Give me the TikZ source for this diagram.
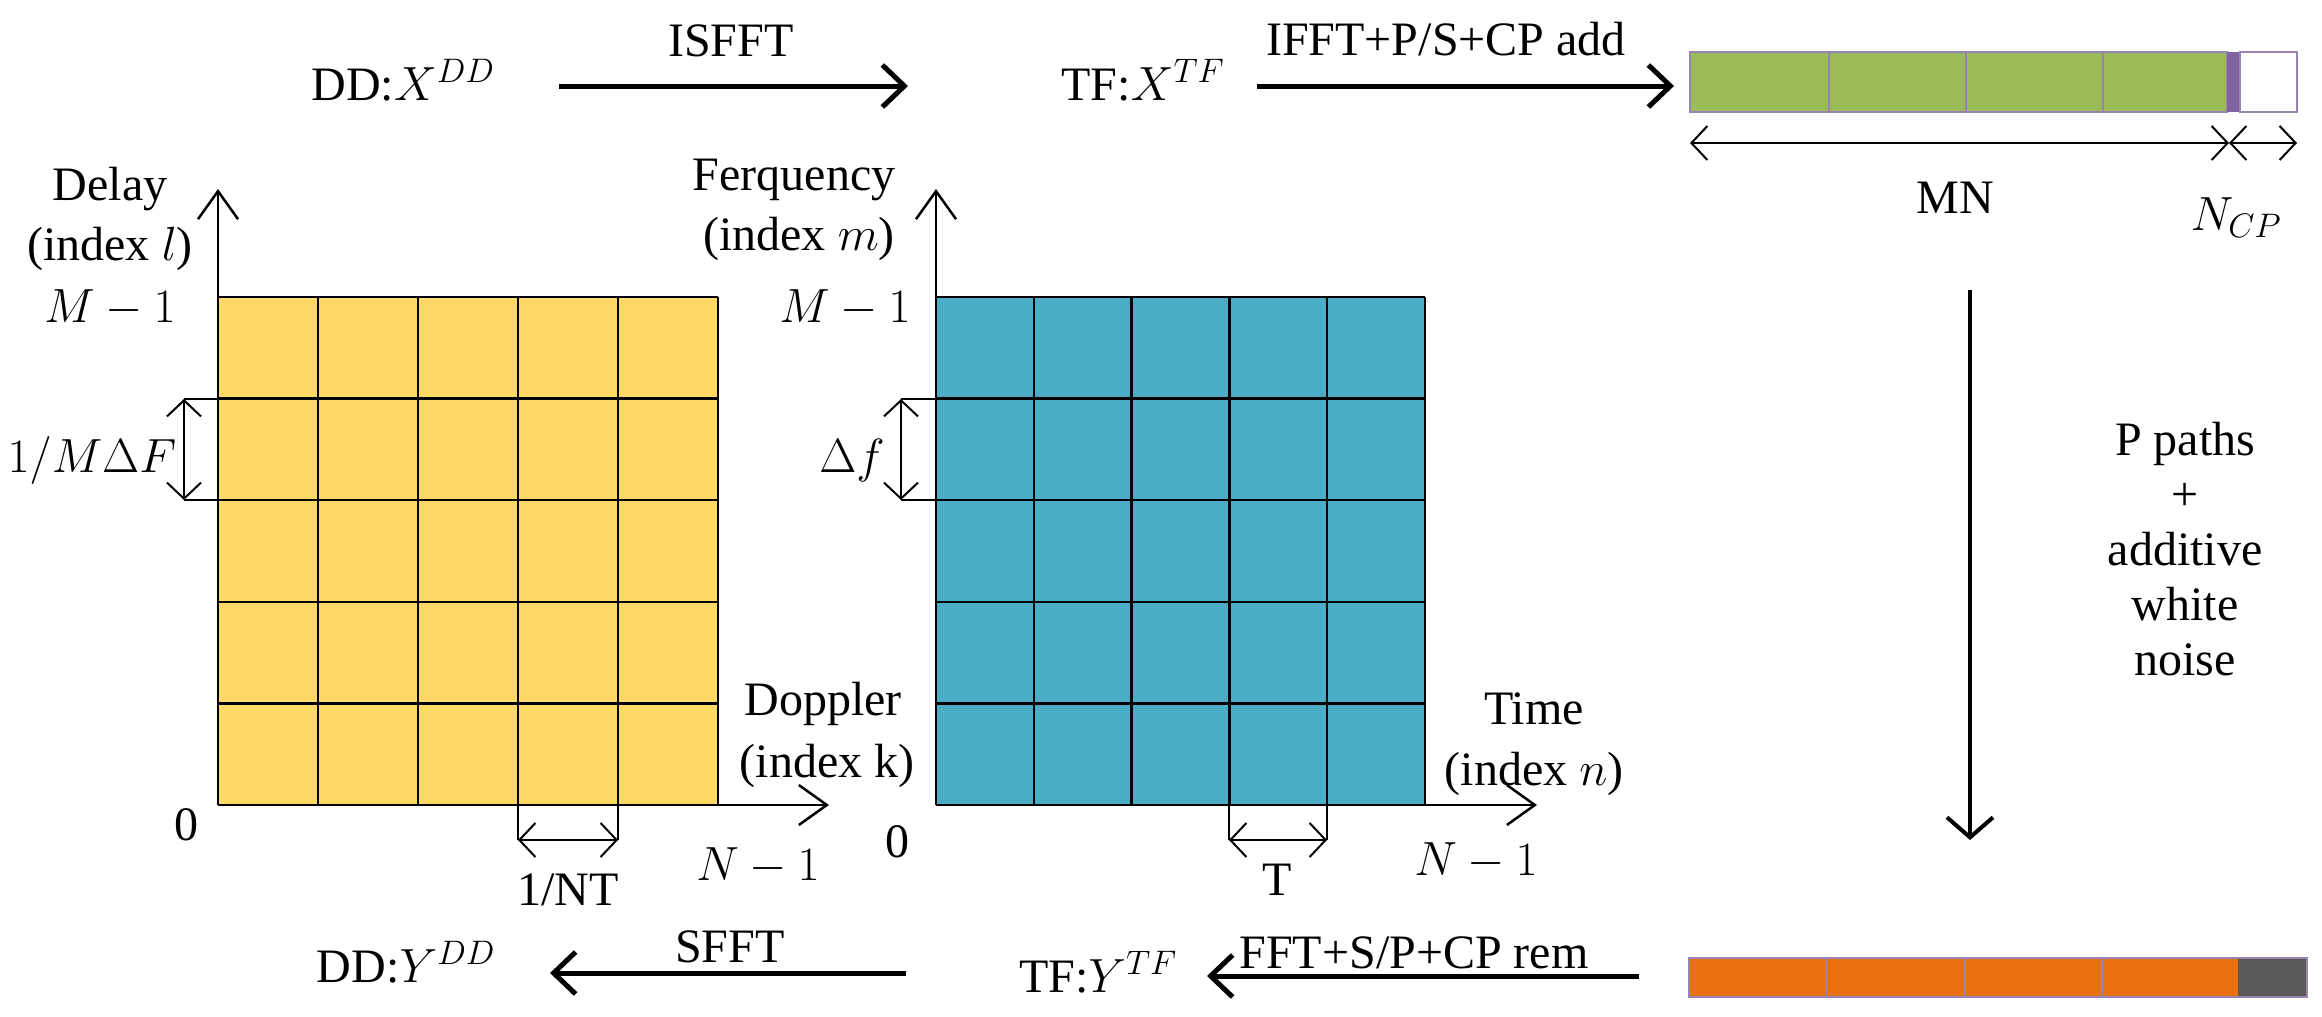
\RequirePackage{fix-cm}
\documentclass[tikz,border=0pt]{standalone}
\usepackage{fontspec}
\setmainfont{Liberation Serif}
\usetikzlibrary{arrows.meta}
\definecolor{cyel}{HTML}{FFD966}
\definecolor{cteal}{HTML}{4BACC6}
\definecolor{cgreen}{HTML}{9BBB59}
\definecolor{corange}{HTML}{E8700E}
\definecolor{cgray}{HTML}{595959}
\definecolor{cpurple}{HTML}{8064A2}
\DeclareMathSizes{48}{48}{34}{26}
\begin{document}
\begin{tikzpicture}[x=1pt,y=-1pt,
  txt/.style={font=\fontsize{48}{60}\selectfont, inner sep=0pt, anchor=base},
  bigarrow/.style={line width=5pt, -{Straight Barb[length=22pt,width=42pt]}},
  axis/.style={line width=2.5pt, -{Straight Barb[length=28pt,width=40pt]}},
  dimarrow/.style={line width=2pt, {Straight Barb[length=16pt,width=34pt]}-{Straight Barb[length=16pt,width=34pt]}},
  tick/.style={line width=2pt},
  gridline/.style={line width=2.5pt},
  barline/.style={draw=cpurple!80, line width=2pt}]
\useasboundingbox (0,0) rectangle (2322,1017);

% ---------- grids ----------
\fill[cyel] (218,297) rectangle (718,805);
\foreach \i in {0,...,5} {
  \draw[gridline] ({218+100*\i},297) -- ({218+100*\i},805);
  \draw[gridline] (218,{297+101.6*\i}) -- (718,{297+101.6*\i});
}
\fill[cteal] (936,297) rectangle (1425,805);
\foreach \i in {0,...,5} {
  \draw[gridline] ({936+97.8*\i},297) -- ({936+97.8*\i},805);
  \draw[gridline] (936,{297+101.6*\i}) -- (1425,{297+101.6*\i});
}

% ---------- axes ----------
\coordinate (yo) at (218,805);
\coordinate (yup) at (218,189);
\coordinate (yright) at (829,805);
\coordinate (to) at (936,805);
\coordinate (tup) at (936,189);
\coordinate (tright) at (1537,805);
\draw[axis] (yo) -- (yup);
\draw[axis] (yo) -- (yright);
\draw[axis] (to) -- (tup);
\draw[axis] (to) -- (tright);

% ---------- DD grid labels ----------
\node[txt] (delay1) at (110,200) {Delay};
\node[txt] (delay2) at (110,260) {(index $l$)};
\node[txt] (ddM) at (110,322) {$M-1$};
\node[txt] (ddres) at (92,472) {$1/M\Delta F$};
\node[txt] (dd0) at (186,840) {0};
\node[txt] (ddN) at (758,880) {$N-1$};
\node[txt] (ddNT) at (568,905) {1/NT};
\node[txt] (dop1) at (823,715) {Doppler};
\node[txt] (dop2) at (827,777) {(index k)};

% resolution arrows DD
\draw[tick] (184,399) -- (218,399);
\draw[tick] (184,500) -- (218,500);
\coordinate (dda) at (184,399);
\coordinate (ddb) at (184,500);
\draw[dimarrow] (dda) -- (ddb);
\draw[tick] (518,805) -- (518,840);
\draw[tick] (618,805) -- (618,840);
\coordinate (ddc) at (518,840);
\coordinate (ddd) at (618,840);
\draw[dimarrow] (ddc) -- (ddd);

% ---------- TF grid labels ----------
\node[txt] (fr1) at (794,190) {Ferquency};
\node[txt] (fr2) at (799,250) {(index $m$)};
\node[txt] (tfM) at (845,322) {$M-1$};
\node[txt] (tfres) at (852,472) {$\Delta f$};
\node[txt] (tf0) at (897,857) {0};
\node[txt] (tfT) at (1277,895) {T};
\node[txt] (tfN) at (1476,875) {$N-1$};
\node[txt] (time1) at (1534,724) {Time};
\node[txt] (time2) at (1534,785) {(index $n$)};

\draw[tick] (901,399) -- (936,399);
\draw[tick] (901,500) -- (936,500);
\coordinate (tfa) at (901,399);
\coordinate (tfb) at (901,500);
\draw[dimarrow] (tfa) -- (tfb);
\draw[tick] (1229,805) -- (1229,840);
\draw[tick] (1327,805) -- (1327,840);
\coordinate (tfc) at (1229,840);
\coordinate (tfd) at (1327,840);
\draw[dimarrow] (tfc) -- (tfd);

% ---------- top row ----------
\node[txt] (ddx) at (403,100) {DD:$X^{DD}$};
\node[txt] (tfx) at (1143,100) {TF:$X^{TF}$};
\node[txt] (isfft) at (731,56) {ISFFT};
\node[txt] (ifft) at (1446,55) {IFFT+P/S+CP add};
\coordinate (a1s) at (559,86);
\coordinate (a1e) at (908,86);
\coordinate (a2s) at (1257,86);
\coordinate (a2e) at (1674,86);
\draw[bigarrow] (a1s) -- (a1e);
\draw[bigarrow] (a2s) -- (a2e);

% green bar
\fill[cgreen] (1690,52) rectangle (2227,112);
\draw[barline] (1690,52) rectangle (2227,112);
\foreach \x in {1829,1966,2103} \draw[barline] (\x,52) -- (\x,112);
\fill[cpurple] (2227,52) rectangle (2240,112);
\draw[barline] (2240,52) rectangle (2297,112);

% MN / NCP dimension
\coordinate (mna) at (1690,143);
\coordinate (mnb) at (2229,143);
\coordinate (mnc) at (2297,143);
\draw[dimarrow] (mna) -- (mnb);
\draw[dimarrow] (mnb) -- (mnc);
\node[txt] (mn) at (1955,213) {MN};
\node[txt] (ncp) at (2236,230) {$N_{CP}$};

% channel arrow
\coordinate (cha) at (1970,290);
\coordinate (chb) at (1970,840);
\draw[line width=4pt, -{Straight Barb[length=20pt,width=46pt]}] (cha) -- (chb);
\node[txt] (ch1) at (2185,455) {P paths};
\node[txt] (ch2) at (2185,510) {+};
\node[txt] (ch3) at (2185,565) {additive};
\node[txt] (ch4) at (2185,620) {white};
\node[txt] (ch5) at (2185,675) {noise};

% orange bar
\fill[corange] (1689,958) rectangle (2238,997);
\fill[cgray] (2238,958) rectangle (2307,997);
\draw[barline] (1689,958) rectangle (2307,997);
\foreach \x in {1826,1965,2102} \draw[barline] (\x,958) -- (\x,997);

% ---------- bottom row ----------
\node[txt] (ddy) at (406,982) {DD:$Y^{DD}$};
\node[txt] (tfy) at (1098,992) {TF:$Y^{TF}$};
\node[txt] (sfft) at (730,962) {SFFT};
\node[txt] (fft) at (1414,968) {FFT+S/P+CP rem};
\coordinate (b1s) at (906,973);
\coordinate (b1e) at (550,973);
\coordinate (b2s) at (1639,976);
\coordinate (b2e) at (1207,976);
\draw[bigarrow] (b1s) -- (b1e);
\draw[bigarrow] (b2s) -- (b2e);
\end{tikzpicture}
\end{document}
